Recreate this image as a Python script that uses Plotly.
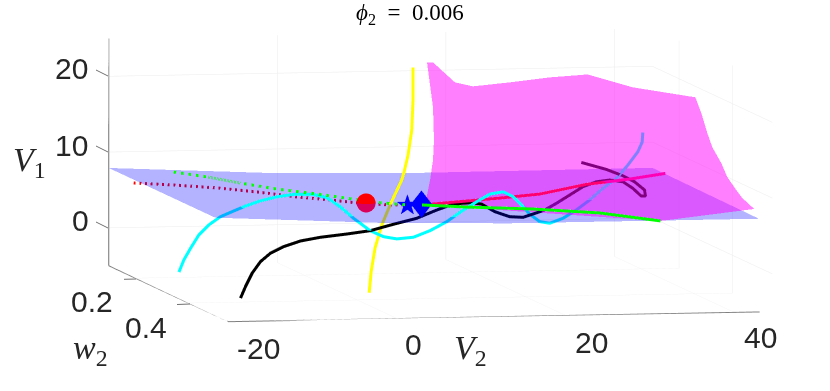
import numpy as np
import plotly.graph_objects as go

W, H = 830, 391

# axes
v2_rng = [-20, 44.5]
w2_rng = [0.55, 0.1]
v1_rng = [-5, 25]

# blue sheet
plane_v2 = [-20, 0, 15, 44.5]
plane_w2 = [0.1, 0.5]
plane_v1 = [[7.9, 6.8, 6.5, 6.6], [7.9, 6.8, 6.45, 6.45]]

# magenta sheet, first vertex is the middle one
mag_v2 = [13.37, 11.44, 12.15, 11.6, 13.73, 18.1, 22.84, 27.34, 32.66, 40.12,
          37.67, 38.38, 38.97, 40.03, 40.75, 41.81, 42.53, 43.94,
          35.98, 11.2, 11.8, 12.15, 12.27, 12.15, 11.8]
mag_w2 = [0.4, 0.3, 0.3, 0.4, 0.4, 0.4, 0.4, 0.4, 0.4, 0.4,
          0.5, 0.5, 0.5, 0.5, 0.5, 0.5, 0.5, 0.5,
          0.4, 0.3, 0.3, 0.3, 0.3, 0.3, 0.3]
mag_v1 = [17.12, 24.48, 24.46, 23.47, 22.9, 23.34, 23.9, 24.2, 22.39, 20.92,
          20.51, 17.86, 16.0, 13.88, 12.02, 10.29, 9.22, 7.75,
          4.69, 5.67, 8.94, 11.57, 14.2, 18.54, 21.44]

black_v2 = [-15.42, -14.83, -14.04, -13.05, -11.87, -10.3, -8.32, -5.95, -2.79, -0.04, 2.72,
            8.33, 10.7, 12.66, 14.64, 16.02, 17.6, 19.37, 20.95, 22.92,
            24.46, 25.85, 27.42, 28.99, 30.58, 32.15, 33.73, 34.91, 35.9, 36.41, 36.3, 35.11, 33.73, 31.76, 28.8]
black_w2 = [0.45] * 11 + [0.36] * 9 + [0.33] * 15
black_v1 = [-3.62, -2.11, -0.36, 1.15, 2.23, 3.07, 3.77, 4.21, 4.58, 4.96, 5.75,
            4.95, 5.99, 6.74, 6.87, 6.67, 5.63, 4.93, 4.82, 5.52,
            5.23, 6.08, 7.14, 8.2, 8.82, 9.02, 8.76, 7.87, 6.83, 6.82, 7.62, 8.73, 9.55, 10.43, 11.41]

cyan_v2 = [-17.99, -17.4, -16.6, -15.62, -14.44, -13.05, -11.48,
           -14.83, -13.05, -11.08, -9.11, -6.75, -5.16, -3.59, -2.01, -0.04, 1.54, 3.12, 5.09, 7.07, 9.04, 11.01, 12.39,
           14.17, 15.74, 16.92, 17.92,
           22.69, 23.87, 25.05, 26.63, 28.21, 29.79, 31.36, 32.95, 34.32, 35.5, 36.02, 36.09]
cyan_w2 = [0.3] * 7 + [0.45] * 20 + [0.33] * 12
cyan_v1 = [-2.59, -0.99, 0.54, 2.27, 3.56, 4.62, 5.34,
           8.51, 9.17, 9.66, 9.94, 9.88, 9.41, 8.19, 6.63, 4.96, 4.14, 3.81, 3.99, 4.82, 5.96, 7.46, 8.39,
           9.5, 9.77, 9.09, 7.98,
           4.69, 3.7, 3.46, 4.09, 5.15, 6.43, 7.94, 9.22, 10.95, 12.67, 13.96, 15.21]

yellow_v2 = [8.2, 8.2, 8.05, 7.61, 7.14, 6.86, 6.19, 5.48, 4.5, 3.7, 3.23, 3]
yellow_w2 = [0.35] * 12
yellow_v1 = [24.68, 20.36, 16.41, 13.13, 10.91, 9.86, 8.29, 6.6, 3.99, 0.98, -2.17, -4.93]

red_v2 = [7.4, 8.34, 16.3, 21.03, 26.56, 31.68, 35.92]
red_w2 = [0.42] * 7
red_v1 = [7.7, 7.82, 8.44, 8.87, 10.04, 10.63, 11.29]

reddot_v2 = [-18.62, -13.88, -8.67, -3.94, 0.79, 4.7, 7.89, 11.8, 14.5]
reddot_w2 = [0.15] * 9
reddot_v1 = [6.71, 6.35, 5.85, 5.22, 4.47, 4.0, 3.54, 3.2, 3.14]

green_v2 = [4.53, 9.86, 17.67, 25.6, 32.82]
green_w2 = [0.5] * 5
green_v1 = [9.08, 8.7, 8.28, 7.6, 6.4]

greendot_v2 = [-18.62, -14.59, -15.42, -11.04, -6.31, -2.05, 1.5, 4.7]
greendot_w2 = [0.3, 0.3, 0.45, 0.45, 0.45, 0.45, 0.45, 0.45]
greendot_v1 = [10.62, 9.88, 11.55, 10.67, 9.92, 9.17, 8.57, 8.25]

# equilibria
ball_v2, ball_w2, ball_v1 = -2.1, 0.5, 9.48
star_v2, star_w2, star_v1 = [4.34], [0.45], [8.38]
diam_v2, diam_w2, diam_v1 = [6.0], [0.45], [8.35]

FLAT = dict(ambient=1, diffuse=0, specular=0, fresnel=0, roughness=1)

fig = go.Figure()


def curve(x, y, z, color, dash='solid', width=6):
    fig.add_trace(go.Scatter3d(x=x, y=y, z=z, mode='lines', hoverinfo='skip',
                               line=dict(color=color, width=width, dash=dash)))


# box edges that carry the ticks
curve([-20, -20], [0.1, 0.1], [25, -5], '#707070', width=2)
curve([-20, -20], [0.1, 0.55], [-5, -5], '#707070', width=2)
curve([-20, 43], [0.55, 0.55], [-5, -5], '#808080', width=2)

curve(black_v2, black_w2, black_v1, '#000000')
curve(cyan_v2, cyan_w2, cyan_v1, '#00ffff')
curve(yellow_v2, yellow_w2, yellow_v1, '#ffff00')
curve(red_v2, red_w2, red_v1, '#ff006e')
curve(reddot_v2, reddot_w2, reddot_v1, '#ff0000', dash='dash')
curve(green_v2, green_w2, green_v1, '#00ff00')
curve(greendot_v2, greendot_w2, greendot_v1, '#00ff00', dash='dash')

# ball, the sheet runs through its middle so the lower half is darker
th, ph = np.meshgrid(np.linspace(0, np.pi, 41), np.linspace(0, 2 * np.pi, 41))
fig.add_trace(go.Surface(x=ball_v2 + 1.1 * np.sin(th) * np.cos(ph),
                         y=ball_w2 + 0.008 * np.sin(th) * np.sin(ph),
                         z=ball_v1 + 1.25 * np.cos(th),
                         surfacecolor=np.cos(th), cmin=-1, cmax=1,
                         colorscale=[[0, '#d8005c'], [0.5, '#d8005c'], [0.5, '#ff0000'], [1, '#ff0000']],
                         showscale=False, lighting=FLAT, hoverinfo='skip'))

fig.add_trace(go.Scatter3d(x=star_v2, y=star_w2, z=star_v1, mode='text', text=['★'],
                           textfont=dict(color='#0000ff', size=28, family='DejaVu Sans'),
                           textposition='middle center', hoverinfo='skip'))
fig.add_trace(go.Scatter3d(x=diam_v2, y=diam_w2, z=diam_v1, mode='text', text=['♦'],
                           textfont=dict(color='#0000ff', size=38, family='DejaVu Sans'),
                           textposition='middle center', hoverinfo='skip'))

fig.add_trace(go.Surface(x=plane_v2, y=plane_w2, z=plane_v1, opacity=0.3,
                         colorscale=[[0, '#0000ff'], [1, '#0000ff']], showscale=False,
                         lighting=FLAT, hoverinfo='skip'))

n = len(mag_v2) - 1
fig.add_trace(go.Mesh3d(x=mag_v2, y=mag_w2, z=mag_v1, color='#ff00ff', opacity=0.5,
                        i=[0] * n, j=list(range(1, n + 1)), k=list(range(2, n + 1)) + [1],
                        lighting=FLAT, hoverinfo='skip'))


def axis(rng, vals):
    return dict(range=rng, tickvals=vals, showticklabels=False, title='', ticks='',
                showbackground=False, gridcolor='#ececec', gridwidth=1,
                zeroline=False, showline=False, showspikes=False)


def label(px, py, text, size, family='Liberation Sans', color='#262626'):
    fig.add_annotation(x=px / W, y=1 - py / H, xref='paper', yref='paper', text=text, showarrow=False,
                       xanchor='center', yanchor='middle', font=dict(size=size, family=family, color=color))


TICK = 30
label(71, 68, '20', TICK)
label(71, 145, '10', TICK)
label(80, 221, '0', TICK)
label(92, 301, '0.2', TICK)
label(146, 327, '0.4', TICK)
label(258, 348, '-20', TICK)
label(413, 344, '0', TICK)
label(591, 342, '20', TICK)
label(760, 337, '40', TICK)
label(29, 162, '<i>V</i><sub>1</sub>', 34, 'Liberation Serif')
label(90, 350, '<i>w</i><sub>2</sub>', 34, 'Liberation Serif')
label(470, 350, '<i>V</i><sub>2</sub>', 34, 'Liberation Serif')
label(410, 14, '<i>ϕ</i><sub>2</sub>\u00a0\u00a0=\u00a0\u00a00.006', 23, 'Liberation Serif', '#000000')

shapes = [dict(type='rect', xref='paper', yref='paper', x0=761 / W, x1=1, y0=0.1, y1=0.7,
               fillcolor='white', line_width=0, layer='below')]
for x0, y0, x1, y1 in [(96, 70, 108, 76), (96, 146, 108, 152), (96, 222, 108, 228),
                       (124, 279.3, 136, 279), (177, 304.5, 190, 304)]:
    shapes.append(dict(type='line', xref='paper', yref='paper', x0=x0 / W, x1=x1 / W,
                       y0=1 - y0 / H, y1=1 - y1 / H, line=dict(color='#707070', width=1)))

fig.update_layout(
    width=W, height=H, margin=dict(l=0, r=0, t=0, b=0), showlegend=False,
    paper_bgcolor='white', shapes=shapes,
    scene=dict(
        domain=dict(x=[0, 1], y=[0, 1]),
        aspectmode='manual', aspectratio=dict(x=2.835, y=3.153, z=1.168),
        camera=dict(eye=dict(x=-0.902, y=-3.882, z=0.265), up=dict(x=0, y=0, z=1),
                    center=dict(x=-0.128, y=0.025, z=-0.105), projection=dict(type='orthographic')),
        xaxis=axis(v2_rng, [-20, 0, 20, 40]),
        yaxis=axis(w2_rng, [0.2, 0.4]),
        zaxis=axis(v1_rng, [0, 10, 20]),
    ),
)
fig.write_html("out.html", config={'displayModeBar': False}, post_script="document.body.style.margin='0';")
